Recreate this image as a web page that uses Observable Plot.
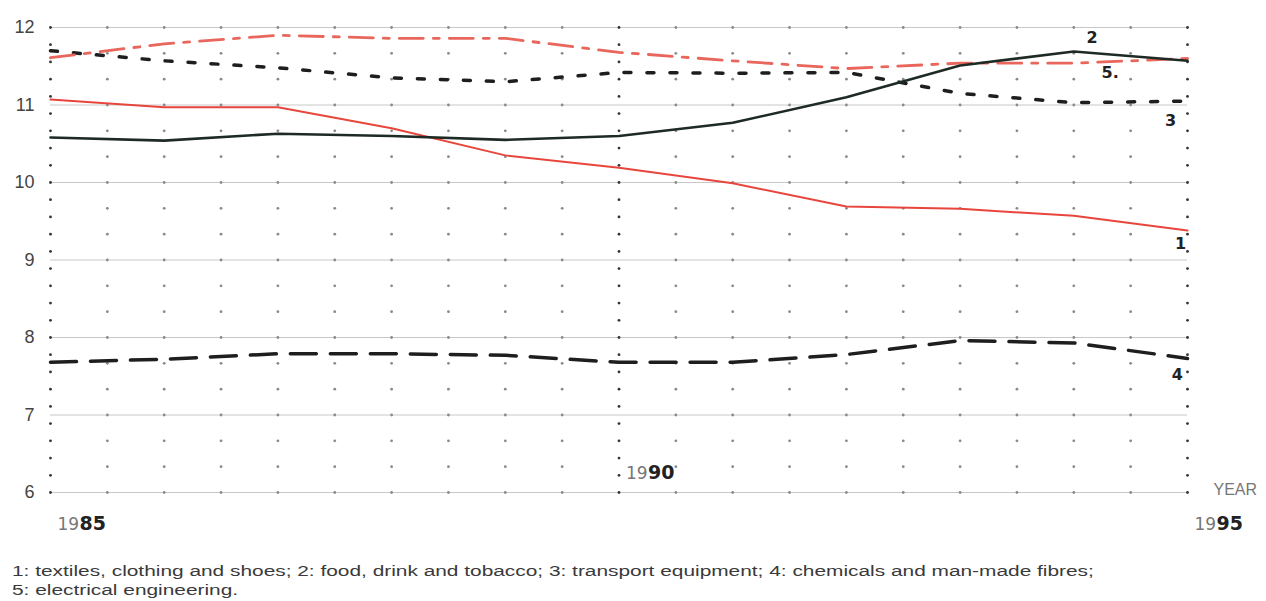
<!DOCTYPE html>
<html>
<head>
<meta charset="utf-8">
<script src="https://cdn.jsdelivr.net/npm/d3@7"></script>
<script src="https://cdn.jsdelivr.net/npm/@observablehq/plot@0.6"></script>
<style>
  body { margin: 0; background: #fff; }
  #chart { width: 1266px; }
  #caption { font-family: "Liberation Sans", Arial, sans-serif; font-size: 14px; color: #3a3a3a;
    line-height: 19px; margin: 17px 0 0 12px; transform: scaleX(1.49); transform-origin: left top; white-space: nowrap; }
</style>
</head>
<body>
<div id="chart"></div>
<div id="caption">1: textiles, clothing and shoes; 2: food, drink and tobacco; 3: transport equipment; 4: chemicals and man-made fibres;<br>5: electrical engineering.</div>
<script>
const years = [1985, 1986, 1987, 1988, 1989, 1990, 1991, 1992, 1993, 1994, 1995];
const redSolid   = [11.07, 10.97, 10.97, 10.70, 10.35, 10.19, 9.99, 9.69, 9.66, 9.57, 9.38];
const blackSolid = [10.58, 10.54, 10.63, 10.60, 10.55, 10.60, 10.77, 11.10, 11.51, 11.69, 11.57];
const redDashed  = [11.61, 11.79, 11.90, 11.86, 11.86, 11.68, 11.57, 11.47, 11.54, 11.54, 11.60];
const blackDotted= [11.70, 11.57, 11.48, 11.35, 11.30, 11.42, 11.41, 11.42, 11.15, 11.03, 11.05];
const blackDashed= [7.68, 7.72, 7.79, 7.79, 7.77, 7.68, 7.68, 7.78, 7.96, 7.93, 7.73];

const yTicks = [6, 7, 8, 9, 10, 11, 12];
const axisYears = [1985, 1990, 1995];
// year labels: light century prefix + bold decade suffix, placed in data coordinates
const yearLabels = [
  {year: 1985, pre: "19", post: "85", y: 5.59},
  {year: 1990, pre: "19", post: "90", y: 6.25},
  {year: 1995, pre: "19", post: "95", y: 5.59}
];
const seriesLabels = [
  {label: "1", x: 1994.94, y: 9.21},
  {label: "2", x: 1994.16, y: 11.86},
  {label: "3", x: 1994.85, y: 10.80},
  {label: "4", x: 1994.91, y: 7.52},
  {label: "5.", x: 1994.32, y: 11.41}
];
const axisTitle = [{label: "YEAR", x: 1995, y: 6.03}];

const toRows = vals => years.map((x, i) => ({x, y: vals[i]}));

// decorative dot grid
const halfYears = d3.range(1985, 1995.01, 0.5).filter(v => !axisYears.includes(v));
const gridRows = d3.range(6, 12.001, 1/3);
const gridDots = halfYears.flatMap(x => gridRows.map(y => ({x, y})));
const axisRows = d3.range(6, 12.001, 2/9);
const axisDots = axisYears.flatMap(x => axisRows.map(y => ({x, y})));

const chart = Plot.plot({
  width: 1266,
  height: 545,
  marginLeft: 50,
  marginRight: 79,
  marginTop: 27,
  marginBottom: 53,
  style: {fontFamily: "Liberation Sans, Arial, sans-serif", background: "#fff", overflow: "visible"},
  x: {domain: [1985, 1995], axis: null},
  y: {domain: [6, 12], axis: null},
  marks: [
    Plot.ruleY(yTicks, {x1: 1985, x2: 1995, stroke: "#c8c8c8", strokeWidth: 1}),
    Plot.dot(gridDots, {x: "x", y: "y", r: 1.4, fill: "#8a8a8a", stroke: null}),
    Plot.dot(axisDots, {x: "x", y: "y", r: 1.4, fill: "#333", stroke: null}),
    Plot.text(yTicks, {x: 1985, y: d => d, text: d => String(d), dx: -16, textAnchor: "end", fontSize: 18, fill: "#444"}),
    Plot.line(toRows(blackDashed), {x: "x", y: "y", stroke: "#1e1e1e", strokeWidth: 3.5, strokeDasharray: "26,14"}),
    Plot.line(toRows(blackDotted), {x: "x", y: "y", stroke: "#1e1e1e", strokeWidth: 3.5, strokeDasharray: "7,16"}),
    Plot.line(toRows(redDashed), {x: "x", y: "y", stroke: "#e8665c", strokeWidth: 2.8, strokeDasharray: "24,10,6,10"}),
    Plot.line(toRows(redSolid), {x: "x", y: "y", stroke: "#e8463c", strokeWidth: 2}),
    Plot.line(toRows(blackSolid), {x: "x", y: "y", stroke: "#1e2a24", strokeWidth: 2.6}),
    Plot.text(seriesLabels, {x: "x", y: "y", text: "label", fontSize: 16, fontWeight: "bold", fill: "#222", fontFamily: "DejaVu Sans"}),
    Plot.text(yearLabels, {x: "year", y: "y", text: "pre", dx: 7, textAnchor: "start", fontSize: 17, fill: "#777", fontFamily: "DejaVu Sans"}),
    Plot.text(yearLabels, {x: "year", y: "y", text: "post", dx: 29, textAnchor: "start", fontSize: 19, fontWeight: "bold", fill: "#222", fontFamily: "DejaVu Sans"}),
    Plot.text(axisTitle, {x: "x", y: "y", text: "label", dx: 26, textAnchor: "start", fontSize: 16, fill: "#777"})
  ]
});
document.getElementById("chart").append(chart);
</script>
</body>
</html>
